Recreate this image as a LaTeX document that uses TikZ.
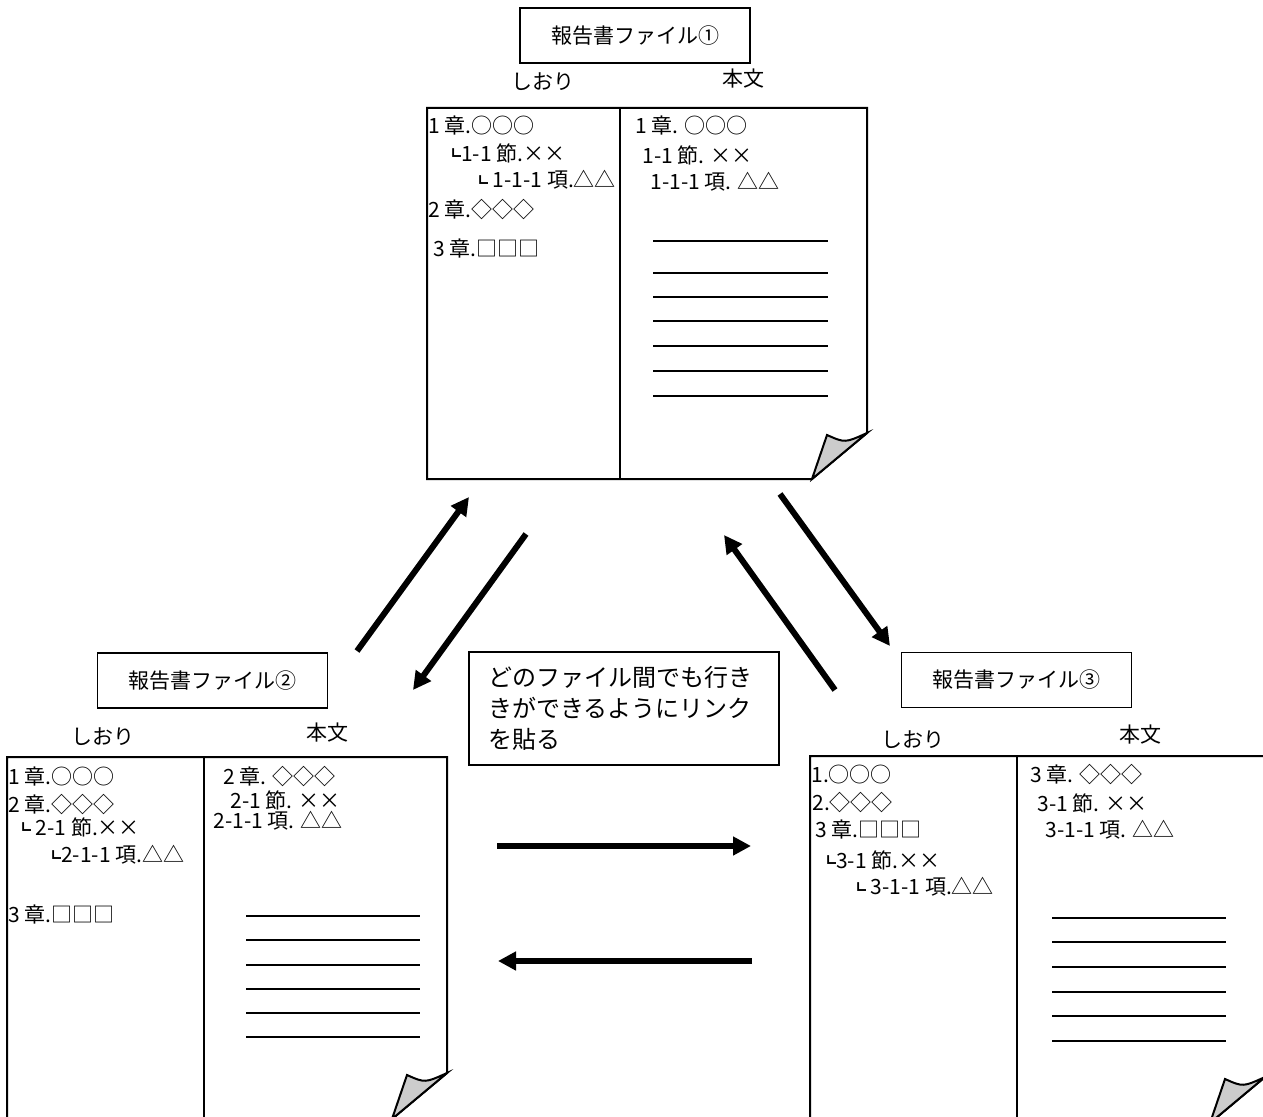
\documentclass[tikz,border=0pt]{standalone}
\usepackage{fontspec}
\setmainfont{Noto Sans CJK JP}
\usetikzlibrary{arrows.meta}

\newcommand{\kagi}{\raisebox{-0.15ex}{\scalebox{0.75}{┗}}}
% page with folded corner: x, y, divider, width, height
\newcommand{\reportpage}[5]{%
  \begin{scope}[shift={(#1,#2)}]
    \draw[page] (0,0) -- (#4,0) -- (#4,#5-46) -- (#4-55,#5) -- (0,#5) -- cycle;
    \draw[page] (#3,0) -- (#3,#5);
    \draw[page,fill=gray!40] (#4-55,#5) -- (#4-40,#5-44) .. controls (#4-22,#5-36) .. (#4,#5-46) -- cycle;
  \end{scope}}

\begin{document}
\begin{tikzpicture}[x=0.5pt,y=-0.5pt,
  every node/.style={font=\fontsize{10.5pt}{13pt}\selectfont},
  page/.style={line width=1pt},
  rule/.style={line width=0.9pt},
  titlebox/.style={draw,line width=0.8pt,minimum width=115pt,minimum height=27.5pt,inner sep=0pt},
  notebox/.style={draw,line width=0.8pt,text width=136pt,inner xsep=9.5pt,minimum height=56.5pt,align=left,
    font=\fontsize{12pt}{15.5pt}\selectfont},
  entry/.style={anchor=west,inner sep=0pt},
  link/.style={line width=3pt,-{Triangle[length=9pt,width=9pt]}}]
\useasboundingbox (0,0) rectangle (1263,1117);

\reportpage{427}{108}{193}{440}{371}
\reportpage{7}{757}{197}{440}{362}
\reportpage{810}{756}{207}{455}{367}

\foreach \y in {241,273,297,321,346,371,396}
  \draw[rule] (653,\y) -- (828,\y);
\foreach \y in {916,940,965,989,1013,1037}
  \draw[rule] (246,\y) -- (420,\y);
\foreach \y in {918,942,967,992,1016,1041}
  \draw[rule] (1052,\y) -- (1226,\y);

\node [titlebox] (t1) at (635,35.5) {報告書ファイル①};
\node [titlebox] (t2) at (212.5,680.5) {報告書ファイル②};
\node [titlebox] (t3) at (1016.5,680) {報告書ファイル③};
\node [notebox] (note) at (624,708.5) {どのファイル間でも行き\\きができるようにリンク\\を貼る};

\node (s1) at (543,82) {しおり};
\node (h1) at (743,79) {本文};
\node (s2) at (103,737) {しおり};
\node (h2) at (327,733) {本文};
\node (s3) at (913,740) {しおり};
\node (h3) at (1140,735) {本文};

\node [entry] (b11) at (428,126) {1 章.○○○};
\node [entry] (b12) at (445,153) {\kagi 1-1 節.××};
\node [entry] (b13) at (472,180) {\kagi\ 1-1-1 項.△△};
\node [entry] (b14) at (428,210) {2 章.◇◇◇};
\node [entry] (b15) at (433,249) {3 章.□□□};
\node [entry] (m11) at (635,126) {1 章. ○○○};
\node [entry] (m12) at (642,155) {1-1 節. ××};
\node [entry] (m13) at (650,182) {1-1-1 項. △△};

\node [entry] (b21) at (8,777) {1 章.○○○};
\node [entry] (b22) at (8,805) {2 章.◇◇◇};
\node [entry] (b23) at (15,827) {\kagi\ 2-1 節.××};
\node [entry] (b24) at (45,855) {\kagi 2-1-1 項.△△};
\node [entry] (b25) at (8,915) {3 章.□□□};
\node [entry] (m21) at (223,777) {2 章. ◇◇◇};
\node [entry] (m22) at (230,800) {2-1 節. ××};
\node [entry] (m23) at (213,821) {2-1-1 項. △△};

\node [entry] (b31) at (811,775) {1.○○○};
\node [entry] (b32) at (812,803) {2.◇◇◇};
\node [entry] (b33) at (815,830) {3 章.□□□};
\node [entry] (b34) at (820,860) {\kagi 3-1 節.××};
\node [entry] (b35) at (850,887) {\kagi\ 3-1-1 項.△△};
\node [entry] (m31) at (1030,775) {3 章. ◇◇◇};
\node [entry] (m32) at (1037,803) {3-1 節. ××};
\node [entry] (m33) at (1045,830) {3-1-1 項. △△};

\coordinate (a1) at (357,651);  \coordinate (a2) at (469,497);
\coordinate (b1) at (526,534);  \coordinate (b2) at (413,690);
\coordinate (c1) at (835,690);  \coordinate (c2) at (724,535);
\coordinate (d1) at (780,494);  \coordinate (d2) at (890,646);
\coordinate (e1) at (497,846);  \coordinate (e2) at (751,846);
\coordinate (f1) at (752,961);  \coordinate (f2) at (498,961);
\draw[link] (a1) -- (a2);
\draw[link] (b1) -- (b2);
\draw[link] (c1) -- (c2);
\draw[link] (d1) -- (d2);
\draw[link] (e1) -- (e2);
\draw[link] (f1) -- (f2);
\end{tikzpicture}
\end{document}
